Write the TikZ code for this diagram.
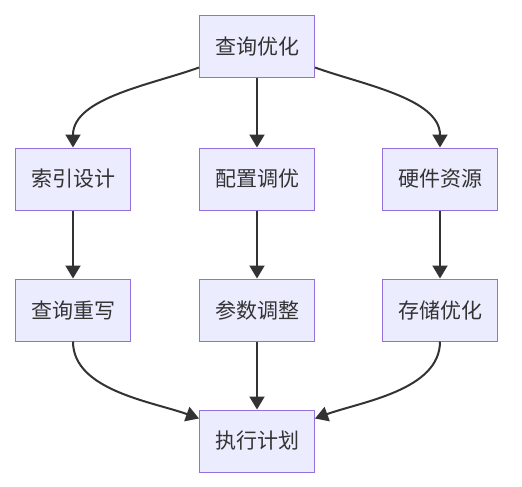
\documentclass[tikz,border=0pt]{standalone}
\usepackage{fontspec}
\setmainfont{Noto Sans CJK SC}
\usetikzlibrary{arrows.meta}
\definecolor{boxfill}{HTML}{ECECFF}
\definecolor{boxline}{HTML}{9370DB}
\definecolor{edgecol}{HTML}{333333}

\begin{document}
\begin{tikzpicture}[x=1pt, y=-1pt,
    box/.style={draw=boxline, fill=boxfill, line width=1pt, minimum width=115pt,
        minimum height=62pt, inner sep=0pt, text=edgecol, font=\fontsize{21}{25}\selectfont},
    flow/.style={draw=edgecol, line width=2pt, -{Triangle[width=15pt,length=13pt]}}]
    \useasboundingbox (0,0) rectangle (522,487);
        %draw boxes
    \node[box] (query) at (257,47) {查询优化};
    \node[box] (index) at (73,179) {索引设计};
    \node[box] (config) at (257,179) {配置调优};
    \node[box] (hard) at (440,179) {硬件资源};
    \node[box] (rewrite) at (73,310) {查询重写};
    \node[box] (param) at (257,310) {参数调整};
    \node[box] (store) at (440,310) {存储优化};
    \node[box] (plan) at (257,441) {执行计划};

        %draw arrows from top
    \draw[flow] ([yshift=11pt]query.south west) to[out=200, in=90, looseness=0.85] (index.north);
    \draw[flow] (query) -- (config);
    \draw[flow] ([yshift=11pt]query.south east) to[out=-20, in=90, looseness=0.85] (hard.north);
        %draw arrows down
    \draw[flow] (index) -- (rewrite);
    \draw[flow] (config) -- (param);
    \draw[flow] (hard) -- (store);
        %draw arrows to bottom
    \draw[flow] (rewrite.south) to[out=-90, in=160, looseness=0.85] ([yshift=-9pt]plan.north west);
    \draw[flow] (param) -- (plan);
    \draw[flow] (store.south) to[out=-90, in=20, looseness=0.85] ([yshift=-9pt]plan.north east);
\end{tikzpicture}
\end{document}
